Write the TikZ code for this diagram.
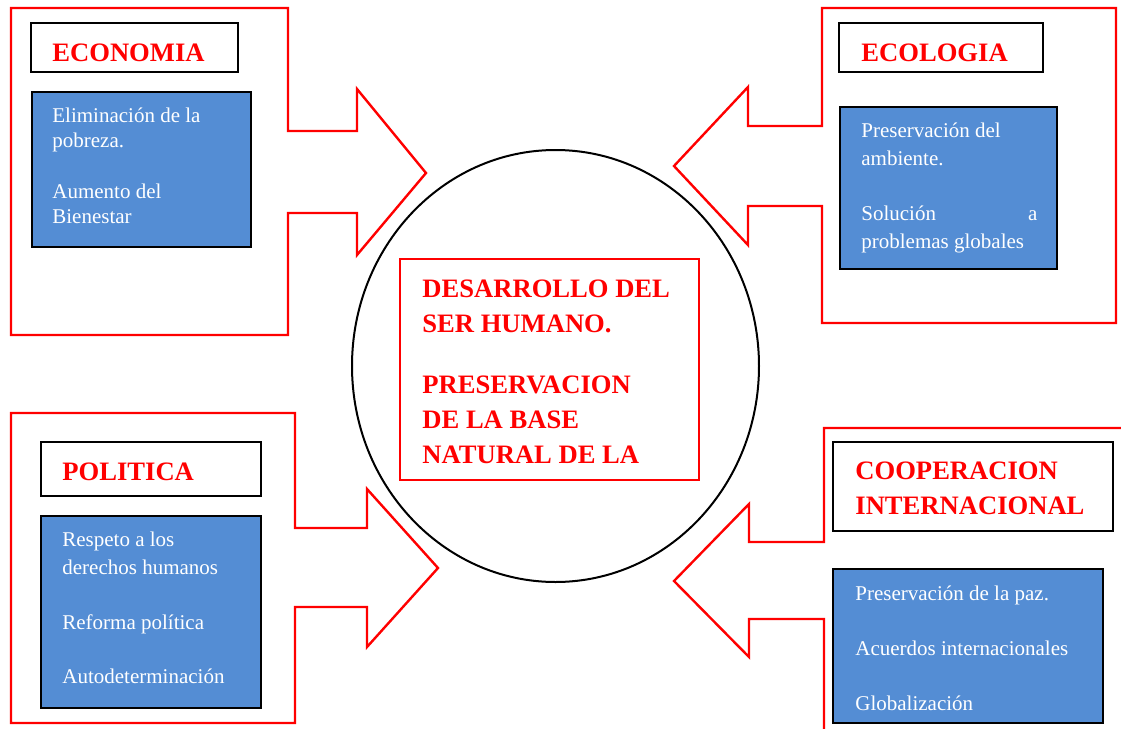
\documentclass[tikz,border=0pt]{standalone}
\usepackage{fontspec}
\setmainfont{Liberation Serif}
\usetikzlibrary{fit,shapes.geometric}
\definecolor{boxblue}{HTML}{548DD4}

\begin{document}
\begin{tikzpicture}[x=0.5pt, y=-0.5pt,
	redframe/.style={draw=red, line width=1.2pt},
	titlebox/.style={draw=black, line width=1pt, fill=white, inner sep=0pt},
	listbox/.style={draw=black, line width=1pt, fill=boxblue, inner sep=0pt},
	titletext/.style={anchor=base west, inner sep=0pt, text=red, font=\fontsize{13.3}{17.5}\selectfont\bfseries},
	listtext/.style={anchor=base west, inner sep=0pt, text=white, font=\fontsize{10.5}{14}\selectfont},
	hub/.style={draw, ellipse, line width=1pt, minimum width=203.5pt, minimum height=216pt, inner sep=0pt}]
	\path[use as bounding box, clip] (0,0) rectangle (1121,729);

	% arrow frames
	\draw[redframe] (11,8) -- (288,8) -- (288,131) -- (357,131) -- (357,89) -- (426,173) -- (357,255) -- (357,213) -- (288,213) -- (288,335) -- (11,335) -- cycle;
	\draw[redframe] (1116,8) -- (822,8) -- (822,126) -- (748,126) -- (748,87) -- (674,166) -- (748,245) -- (748,206) -- (822,206) -- (822,323) -- (1116,323) -- cycle;
	\draw[redframe] (11,413) -- (295,413) -- (295,528) -- (367,528) -- (367,489) -- (438,568) -- (367,647) -- (367,607) -- (295,607) -- (295,723) -- (11,723) -- cycle;
	\draw[redframe] (1140,428) -- (824,428) -- (824,542) -- (749,542) -- (749,504) -- (674,581) -- (749,657) -- (749,619) -- (824,619) -- (824,760) -- (1140,760) -- cycle;

	% centre
	\node[hub] (centro) at (555.5,366) {};
	\node[redframe, inner sep=0pt, fit={(400,259) (699,480)}] (centrobox) {};
	\node[titletext] (centrotxt) at (422,297) {\parbox[t]{150pt}{DESARROLLO DEL\\SER HUMANO.\\[13pt]PRESERVACION\\DE LA BASE\\NATURAL DE LA}};

	% economia
	\node[titlebox, fit={(31,23) (238,72)}] (ecotitle) {};
	\node[titletext] (econame) at (52,61) {ECONOMIA};
	\node[listbox, fit={(32,92) (251,247)}] (ecobox) {};
	\node[listtext, font=\fontsize{10.5}{12.5}\selectfont] (ecolist) at (52,122) {\parbox[t]{100pt}{Eliminación de la\\pobreza.\\[13pt]Aumento del\\Bienestar}};

	% ecologia
	\node[titlebox, fit={(839,23) (1043,72)}] (ecotitle2) {};
	\node[titletext] (ecolname) at (861,61) {ECOLOGIA};
	\node[listbox, fit={(840,107) (1057,269)}] (ecolbox) {};
	\node[listtext] (ecollist) at (861,137) {\parbox[t]{88pt}{Preservación del\\ambiente.\\[13.5pt]Solución\hfill a\\problemas globales}};

	% politica
	\node[titlebox, fit={(41,442) (261,496)}] (poltitle) {};
	\node[titletext] (polname) at (62,480) {POLITICA};
	\node[listbox, fit={(41,516) (261,708)}] (polbox) {};
	\node[listtext] (pollist) at (62,546) {\parbox[t]{100pt}{Respeto a los\\derechos humanos\\[13.5pt]Reforma política\\[13pt]Autodeterminación}};

	% cooperacion
	\node[titlebox, fit={(833,442) (1113,531)}] (cooptitle) {};
	\node[titletext] (coopname) at (855,479) {\parbox[t]{130pt}{COOPERACION\\INTERNACIONAL}};
	\node[listbox, fit={(833,569) (1103,723)}] (coopbox) {};
	\node[listtext] (cooplist) at (855,600) {\parbox[t]{120pt}{Preservación de la paz.\\[13.5pt]Acuerdos internacionales\\[13.5pt]Globalización}};
\end{tikzpicture}
\end{document}
